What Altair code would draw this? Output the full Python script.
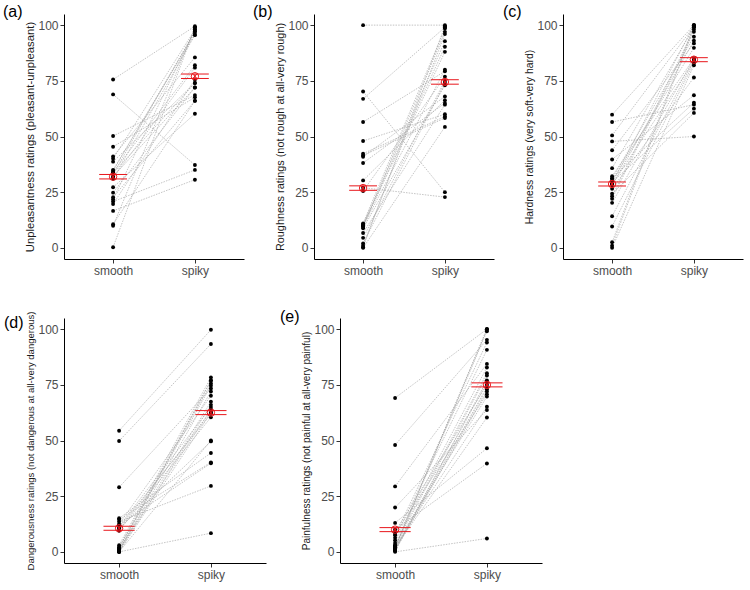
import altair as alt
import numpy as np
import pandas as pd

# Condition labels on the x axis (positions 1 and 2)
conditions = ["smooth", "spiky"]

panel_tags = ["(a)", "(b)", "(c)", "(d)", "(e)"]
y_titles = [
    "Unpleasantness ratings (pleasant-unpleasant)",
    "Roughness ratings (not rough at all-very rough)",
    "Hardness ratings (very soft-very hard)",
    "Dangerousness ratings (not dangerous at all-very dangerous)",
    "Painfulness ratings (not painful at all-very painful)",
]

# Per-participant ratings; index i in "smooth" pairs with index i in "spiky"
unpleasant_smooth = [75.6, 68.9, 50.2, 45.4, 41, 40, 38.7, 35, 34.5, 34, 33.5, 33, 32,
                     31.5, 31, 27.2, 24.8, 22.7, 21.8, 20.8, 19.7, 16.6, 10.6, 9.9, 0.3]
unpleasant_spiky = [99.5, 37.2, 68.6, 67.6, 85.5, 98, 74, 96, 97, 82, 74, 97.3, 72,
                    80.9, 95.5, 60.2, 72, 66, 98, 35, 75.6, 30.6, 66, 98.8, 99]

rough_smooth = [100, 70.2, 66.9, 56.5, 48, 42.3, 41.5, 40.9, 38.1, 30.3, 27, 25.5, 11,
                10.5, 10, 10, 9.6, 9.5, 8.8, 6.7, 4.5, 2, 1, 0.3, 0]
rough_spiky = [100, 25, 99, 79.3, 60, 59, 58.3, 68, 65, 66.3, 22.8, 76.8, 98.5,
               92.8, 90.3, 88, 80, 97, 73, 64.3, 75, 74, 96, 99.5, 54.3]

hard_smooth = [59.8, 56.5, 50.5, 47.8, 43.8, 39.7, 35.8, 32.2, 31.3, 31, 30, 29.5, 29,
               28.5, 28, 26.5, 24.3, 23.2, 22, 20.2, 14.2, 9.6, 2.5, 1, 0]
hard_spiky = [100, 64.3, 99.5, 50, 91.8, 68.5, 99, 85, 65.2, 94.8, 89.8, 62.5, 100,
              83.7, 93, 76.5, 60.6, 98, 97, 85, 84, 83, 100, 99, 82]

danger_smooth = [54.4, 49.8, 29, 15.1, 14.5, 13.6, 12.5, 12, 11.5, 11, 10.5, 10, 9.5,
                 3, 2, 2, 1.5, 1, 1, 0.5, 0.5, 0, 0, 0, 0]
danger_spiky = [99.7, 93.3, 73.4, 44.4, 40.2, 29.6, 70.1, 39.8, 65, 62, 49.6, 63, 60.4,
                78.3, 76.8, 75.6, 74.6, 67.4, 64, 72, 77, 62.5, 66, 50, 8.4]

pain_smooth = [69.1, 48, 29.4, 19.9, 13, 10, 9, 8, 7.5, 6.3, 5.2, 4, 3, 3, 2.2,
               2, 2, 2, 1.5, 1.5, 1, 1, 0.5, 0.5, 0]
pain_spiky = [100, 95.2, 84.4, 63.7, 46.5, 39.7, 75, 70.8, 94, 90.7, 82.8, 80.2, 79.2,
              69.7, 65.2, 60.3, 100, 100, 99, 76, 74, 73, 72, 77, 6]

# Half-length of the error bars around each condition mean
unpleasant_err = [1.0, 1.0]
rough_err = [1.0, 1.0]
hard_err = [0.9, 0.9]
danger_err = [0.9, 0.9]
pain_err = [0.9, 0.9]

RED = "#e8161b"
FONT = "Liberation Sans"


def panel(tag, ytitle, smooth, spiky, err, width, title_size, tag_dy=0, height=245):
    n = len(smooth)
    long = pd.DataFrame({
        "pid": list(range(n)) * 2,
        "cond": [1] * n + [2] * n,
        "rating": list(smooth) + list(spiky),
    })
    means = [float(np.mean(smooth)), float(np.mean(spiky))]
    summ = pd.DataFrame({
        "cond": [1, 2],
        "mean": means,
        "lo": [m - e for m, e in zip(means, err)],
        "hi": [m + e for m, e in zip(means, err)],
        "left": [0.83, 1.83],
        "right": [1.17, 2.17],
    })

    xs = alt.Scale(domain=[0.4, 2.6], nice=False, zero=False)
    ys = alt.Scale(domain=[-5, 105], nice=False, zero=False)
    xa = alt.Axis(values=[1, 2], title=None, grid=False,
                  labelExpr="datum.value == 1 ? '%s' : '%s'" % (conditions[0], conditions[1]))
    ya = alt.Axis(values=[0, 25, 50, 75, 100], title=ytitle, grid=False,
                  titlePadding=2, titleFontSize=title_size)

    def X(f):
        return alt.X(f, scale=xs, axis=xa)

    def Y(f):
        return alt.Y(f, scale=ys, axis=ya)

    lines = alt.Chart(long).mark_line(
        color="#9c9c9c", strokeWidth=0.6, strokeDash=[1.5, 1.2]
    ).encode(x=X("cond:Q"), y=Y("rating:Q"), detail="pid:N")

    dots = alt.Chart(long).mark_circle(color="black", size=15, opacity=1).encode(
        x=X("cond:Q"), y=Y("rating:Q"))

    base = alt.Chart(summ)
    vbar = base.mark_rule(color=RED, strokeWidth=1).encode(
        x=X("cond:Q"), y=Y("lo:Q"), y2="hi:Q")
    cap_lo = base.mark_rule(color=RED, strokeWidth=1).encode(
        x=X("left:Q"), x2="right:Q", y=Y("lo:Q"))
    cap_hi = base.mark_rule(color=RED, strokeWidth=1).encode(
        x=X("left:Q"), x2="right:Q", y=Y("hi:Q"))
    ring = base.mark_point(shape="circle", filled=False, color=RED, size=55,
                           strokeWidth=1, opacity=1).encode(x=X("cond:Q"), y=Y("mean:Q"))
    cross = base.mark_point(shape="M-0.7,-0.7L0.7,0.7M-0.7,0.7L0.7,-0.7", filled=False,
                            color=RED, size=55, strokeWidth=1, opacity=1).encode(
        x=X("cond:Q"), y=Y("mean:Q"))

    return alt.layer(lines, dots, vbar, cap_lo, cap_hi, ring, cross).properties(
        width=width, height=height,
        title=alt.TitleParams(tag, anchor="start", frame="bounds", fontSize=16,
                              fontWeight="normal", font=FONT, color="black",
                              offset=-6, dx=-22, dy=tag_dy),
    )


row1 = alt.hconcat(
    panel(panel_tags[0], y_titles[0], unpleasant_smooth, unpleasant_spiky, unpleasant_err, 180, 11.3),
    panel(panel_tags[1], y_titles[1], rough_smooth, rough_spiky, rough_err, 180, 10.9),
    panel(panel_tags[2], y_titles[2], hard_smooth, hard_spiky, hard_err, 180, 10.4),
    spacing=8,
)
row2 = alt.hconcat(
    panel(panel_tags[3], y_titles[3], danger_smooth, danger_spiky, danger_err, 202, 9.5, tag_dy=14),
    panel(panel_tags[4], y_titles[4], pain_smooth, pain_spiky, pain_err, 202, 10, tag_dy=1),
    spacing=13,
)

chart = alt.vconcat(row1, row2, spacing=33).properties(
    padding={"left": 2, "top": 4, "right": 5, "bottom": 2}
).configure_view(stroke=None).configure_axis(
    domainColor="black", domainWidth=1, tickColor="#333333", tickSize=4, tickWidth=1,
    labelColor="#4d4d4d", labelFontSize=12, labelFont=FONT, labelPadding=2,
    titleFont=FONT, titleFontWeight="normal", titleColor="#1a1a1a",
)

chart.save("out.html", embed_options={"renderer": "svg", "actions": False})
